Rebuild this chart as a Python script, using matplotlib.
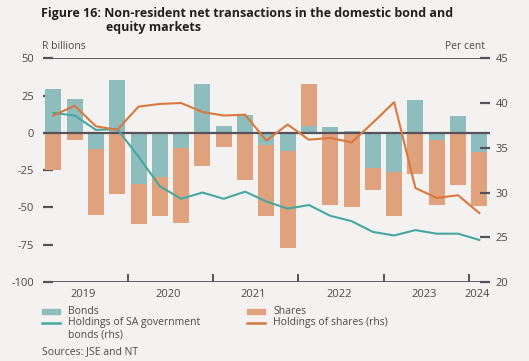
import matplotlib
matplotlib.use("Agg")
import matplotlib.pyplot as plt
from matplotlib.patches import Rectangle
from matplotlib.lines import Line2D
import numpy as np

plt.rcParams['font.family'] = ['Open Sans', 'DejaVu Sans']
plt.rcParams['axes.unicode_minus'] = False

quarters = ["2019Q1", "2019Q2", "2019Q3", "2019Q4",
            "2020Q1", "2020Q2", "2020Q3", "2020Q4",
            "2021Q1", "2021Q2", "2021Q3", "2021Q4",
            "2022Q1", "2022Q2", "2022Q3", "2022Q4",
            "2023Q1", "2023Q2", "2023Q3", "2023Q4",
            "2024Q1"]
years = ["2019", "2020", "2021", "2022", "2023", "2024"]

bonds = [29.3, 22.4, -11.0, 35.4, -34.0, -29.5, -10.0, 32.9, 4.7, 12.3,
         -8.2, -11.9, 4.5, 3.8, 1.3, -23.3, -26.2, 22.2, -4.9, 11.2, -12.5]
shares = [-24.6, -4.9, -44.3, -41.0, -26.9, -26.5, -50.2, -22.2, -9.4, -31.8,
          -47.5, -65.1, 28.6, -48.1, -49.9, -15.2, -29.5, -27.3, -43.7, -34.7, -36.3]
hold_bonds = [38.9, 38.6, 37.0, 37.1, 34.0, 30.7, 29.3, 30.0, 29.3, 30.1,
              29.0, 28.2, 28.6, 27.4, 26.8, 25.6, 25.2, 25.8, 25.4, 25.4, 24.7]
hold_shares = [38.6, 39.7, 37.4, 37.0, 39.6, 39.9, 40.0, 39.0, 38.6, 38.7,
               35.8, 37.6, 35.9, 36.1, 35.6, 37.8, 40.1, 30.5, 29.4, 29.7, 27.7]

c_bond_bar = "#8DBDBC"
c_share_bar = "#E0A27D"
c_bond_line = "#45A8A0"
c_share_line = "#D9783E"
c_axis = "#57525A"
c_text = "#4A4A4A"
bg = "#F3F2F1"

W, H = 529, 361
fig = plt.figure(figsize=(W / 100, H / 100), dpi=100, facecolor=bg)
ax = fig.add_axes([42.7 / W, 1 - 282 / H, (490 - 42.7) / W, (282 - 58.3) / H])
ax.set_facecolor("none")

x = np.arange(len(quarters))
b = np.array(bonds)
s = np.array(shares)
bw = 0.75
ax.bar(x, b, width=bw, color=c_bond_bar, zorder=2, linewidth=0)
share_bottom = np.where(np.sign(s) == np.sign(b), b, 0)
ax.bar(x, s, bottom=share_bottom, width=bw, color=c_share_bar, zorder=2, linewidth=0)

ax.set_xlim(-0.5, len(quarters) - 0.5)
ax.set_ylim(-100, 50)
ax.axhline(0, color=c_axis, lw=1.6, zorder=3)
ax.axhline(50, color=c_axis, lw=1.3, zorder=3)
ax.axhline(-100, color=c_axis, lw=1.3, zorder=3)
for sp in ax.spines.values():
    sp.set_visible(False)

ax.set_yticks([50, 25, 0, -25, -50, -75, -100])
ax.tick_params(axis='y', direction='in', length=7, width=1.6, color=c_axis,
               labelsize=8, labelcolor=c_text, pad=6)
# year separators
ax.set_xticks([3.5, 7.5, 11.5, 15.5, 19.5])
ax.set_xticklabels([])
ax.tick_params(axis='x', direction='in', length=6, width=1.4, color=c_axis)
year_centers = [1.5, 5.5, 9.5, 13.5, 17.5, 20]
for yc, yl in zip(year_centers, years):
    ax.text(yc - 0.1, -104.5, yl, ha='center', va='top', fontsize=8, color=c_text)

ax2 = ax.twinx()
ax2.set_facecolor("none")
ax2.set_ylim(20, 45)
ax2.plot(x, hold_bonds, color=c_bond_line, lw=1.5, zorder=4)
ax2.plot(x, hold_shares, color=c_share_line, lw=1.5, zorder=4)
for sp in ax2.spines.values():
    sp.set_visible(False)
ax2.set_yticks([45, 40, 35, 30, 25, 20])
ax2.tick_params(axis='y', direction='in', length=7, width=1.6, color=c_axis,
                labelsize=8, labelcolor=c_text, pad=4)

fig.text(42 / W, 1 - 49 / H, "R billions", fontsize=7.5, color=c_text, va='baseline', ha='left')
fig.text(485 / W, 1 - 49 / H, "Per cent", fontsize=7.5, color=c_text, va='baseline', ha='right')

# title
fig.text(41 / W, 1 - 17 / H, "Figure 16: Non-resident net transactions in the domestic bond and",
         fontsize=9, fontweight='bold', color="#231F20", va='baseline', ha='left')
fig.text(105.5 / W, 1 - 31 / H, "equity markets",
         fontsize=9, fontweight='bold', color="#231F20", va='baseline', ha='left')

# legend (manual)
def patch(xp, yp, c):
    fig.patches.append(Rectangle((xp / W, 1 - (yp + 2.5) / H), 18 / W, 5 / H,
                                 transform=fig.transFigure, color=c))

def line(xp, yp, c):
    fig.lines.append(Line2D([xp / W, (xp + 18) / W], [1 - yp / H, 1 - yp / H],
                            transform=fig.transFigure, color=c, lw=1.8))

patch(42, 311, c_bond_bar)
patch(247, 311, c_share_bar)
line(42, 323, c_bond_line)
line(247, 323, c_share_line)
lfs = 7.5
fig.text(68 / W, 1 - 311 / H, "Bonds", fontsize=lfs, color=c_text, va='center')
fig.text(68 / W, 1 - 323 / H, "Holdings of SA government", fontsize=lfs, color=c_text, va='center')
fig.text(68 / W, 1 - 335 / H, "bonds (rhs)", fontsize=lfs, color=c_text, va='center')
fig.text(273 / W, 1 - 311 / H, "Shares", fontsize=lfs, color=c_text, va='center')
fig.text(273 / W, 1 - 323 / H, "Holdings of shares (rhs)", fontsize=lfs, color=c_text, va='center')
fig.text(42 / W, 1 - 352 / H, "Sources: JSE and NT", fontsize=lfs, color=c_text, va='center')

fig.savefig("out.png", dpi=100, facecolor=bg)
